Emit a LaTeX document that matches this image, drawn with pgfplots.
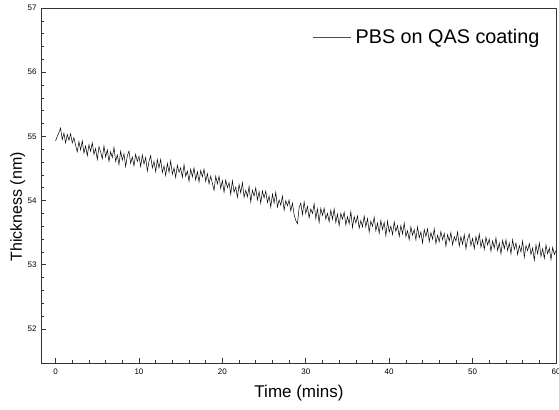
\documentclass[border=0pt]{standalone}
\usepackage{fontspec}
\setmainfont{Liberation Sans}
\usepackage{pgfplots}
\pgfplotsset{compat=1.18}
\begin{document}
\begin{tikzpicture}
\begin{axis}[
  scale only axis,
  width=515pt, height=355pt,
  xmin=-1.75, xmax=60, ymin=51.47, ymax=57,
  xtick={0,10,20,30,40,50,60},
  ytick={52,53,54,55,56,57},
  minor x tick num=4, minor y tick num=4,
  tick pos=left,
  tick align=inside,
  major tick length=5pt, minor tick length=3pt,
  axis line style={line width=0.7pt, black!80},
  every tick/.style={black!80, line width=0.6pt},
  /pgf/number format/assume math mode=true,
  ticklabel style={font=\fontsize{8}{9}\selectfont},
  xticklabel style={yshift=-2pt},
  yticklabel style={xshift=-1pt},
  xlabel={Time (mins)},
  ylabel={Thickness (nm)},
  xlabel style={font=\fontsize{17}{19}\selectfont, at={(axis description cs:0.501,-0.085)}, anchor=center},
  ylabel style={font=\fontsize{16}{18}\selectfont, at={(axis description cs:-0.045,0.44)}, anchor=center, rotate=0},
  legend style={draw=none, fill=none, at={(axis description cs:0.528,0.918)}, anchor=west,
    font=\fontsize{19.8}{21}\selectfont, inner sep=0pt, column sep=2pt},
  legend image code/.code={\draw[black!70, line width=0.5pt] (0pt,0pt) -- (38pt,0pt);},
]
\addplot[black, line width=0.5pt] table {
t y
0.0 54.93
0.2 55.00
0.4 55.06
0.6 55.13
0.8 54.95
1.0 55.05
1.2 54.90
1.4 55.03
1.6 54.94
1.8 55.04
2.0 54.90
2.2 54.98
2.4 54.86
2.6 54.76
2.8 54.92
3.0 54.79
3.2 54.93
3.4 54.74
3.6 54.85
3.8 54.70
4.0 54.87
4.2 54.77
4.4 54.90
4.6 54.72
4.8 54.81
5.0 54.64
5.2 54.84
5.4 54.76
5.6 54.65
5.8 54.85
6.0 54.68
6.2 54.79
6.4 54.61
6.6 54.76
6.8 54.67
7.0 54.83
7.2 54.61
7.4 54.71
7.6 54.56
7.8 54.77
8.0 54.63
8.2 54.73
8.4 54.53
8.6 54.70
8.8 54.77
9.0 54.58
9.2 54.68
9.4 54.54
9.6 54.72
9.8 54.61
10.0 54.69
10.2 54.53
10.4 54.71
10.6 54.57
10.8 54.67
11.0 54.46
11.2 54.61
11.4 54.70
11.6 54.51
11.8 54.61
12.0 54.45
12.2 54.64
12.4 54.51
12.6 54.64
12.8 54.44
13.0 54.54
13.2 54.39
13.4 54.58
13.6 54.44
13.8 54.62
14.0 54.41
14.2 54.51
14.4 54.36
14.6 54.55
14.8 54.44
15.0 54.51
15.2 54.36
15.4 54.56
15.6 54.38
15.8 54.46
16.0 54.30
16.2 54.49
16.4 54.37
16.6 54.51
16.8 54.32
17.0 54.45
17.2 54.29
17.4 54.47
17.6 54.37
17.8 54.49
18.0 54.30
18.2 54.42
18.4 54.26
18.6 54.38
18.8 54.27
19.0 54.16
19.2 54.38
19.4 54.26
19.6 54.38
19.8 54.19
20.0 54.31
20.2 54.13
20.4 54.32
20.6 54.20
20.8 54.28
21.0 54.10
21.2 54.31
21.4 54.13
21.6 54.21
21.8 54.05
22.0 54.25
22.2 54.12
22.4 54.28
22.6 54.05
22.8 54.16
23.0 54.06
23.2 54.22
23.4 53.98
23.6 54.16
23.8 54.07
24.0 54.20
24.2 54.01
24.4 54.14
24.6 53.96
24.8 54.15
25.0 54.04
25.2 54.15
25.4 53.97
25.6 54.07
25.8 53.90
26.0 54.10
26.2 53.96
26.4 54.13
26.6 53.90
26.8 54.01
27.0 53.93
27.2 54.07
27.4 53.85
27.6 54.00
27.8 53.92
28.0 54.01
28.2 53.84
28.4 53.96
28.6 53.78
28.8 53.69
29.0 53.64
29.2 53.89
29.4 53.96
29.6 53.78
29.8 53.98
30.0 53.80
30.2 53.91
30.4 53.73
30.6 53.87
30.8 53.80
31.0 53.95
31.2 53.72
31.4 53.87
31.6 53.66
31.8 53.88
32.0 53.77
32.2 53.88
32.4 53.71
32.6 53.80
32.8 53.67
33.0 53.85
33.2 53.71
33.4 53.87
33.6 53.66
33.8 53.79
34.0 53.61
34.2 53.80
34.4 53.71
34.6 53.82
34.8 53.62
35.0 53.75
35.2 53.64
35.4 53.83
35.6 53.58
35.8 53.75
36.0 53.65
36.2 53.76
36.4 53.57
36.6 53.69
36.8 53.59
37.0 53.76
37.2 53.59
37.4 53.72
37.6 53.51
37.8 53.68
38.0 53.60
38.2 53.74
38.4 53.53
38.6 53.65
38.8 53.49
39.0 53.69
39.2 53.55
39.4 53.66
39.6 53.45
39.8 53.68
40.0 53.51
40.2 53.60
40.4 53.47
40.6 53.67
40.8 53.52
41.0 53.61
41.2 53.44
41.4 53.61
41.6 53.48
41.8 53.65
42.0 53.44
42.2 53.53
42.4 53.39
42.6 53.59
42.8 53.46
43.0 53.55
43.2 53.39
43.4 53.59
43.6 53.42
43.8 53.51
44.0 53.34
44.2 53.55
44.4 53.44
44.6 53.56
44.8 53.36
45.0 53.50
45.2 53.40
45.4 53.56
45.6 53.33
45.8 53.46
46.0 53.36
46.2 53.52
46.4 53.39
46.6 53.49
46.8 53.29
47.0 53.47
47.2 53.37
47.4 53.50
47.6 53.31
47.8 53.44
48.0 53.37
48.2 53.51
48.4 53.29
48.6 53.44
48.8 53.32
49.0 53.47
49.2 53.25
49.4 53.40
49.6 53.48
49.8 53.30
50.0 53.41
50.2 53.25
50.4 53.44
50.6 53.32
50.8 53.48
51.0 53.27
51.2 53.39
51.4 53.24
51.6 53.43
51.8 53.31
52.0 53.40
52.2 53.21
52.4 53.37
52.6 53.26
52.8 53.42
53.0 53.22
53.2 53.34
53.4 53.17
53.6 53.38
53.8 53.25
54.0 53.39
54.2 53.22
54.4 53.34
54.6 53.17
54.8 53.39
55.0 53.24
55.2 53.34
55.4 53.16
55.6 53.30
55.8 53.20
56.0 53.37
56.2 53.12
56.4 53.30
56.6 53.22
56.8 53.33
57.0 53.16
57.2 53.26
57.4 53.07
57.6 53.31
57.8 53.17
58.0 53.34
58.2 53.13
58.4 53.25
58.6 53.10
58.8 53.31
59.0 53.17
59.2 53.26
59.4 53.08
59.6 53.27
59.8 53.16
60.0 53.22
};
\addlegendentry{PBS on QAS coating}
\end{axis}
\pgfresetboundingbox
\path ([shift={(-41pt,-47pt)}]current axis.south west) rectangle ([shift={(3pt,8pt)}]current axis.north east);
\end{tikzpicture}
\end{document}
